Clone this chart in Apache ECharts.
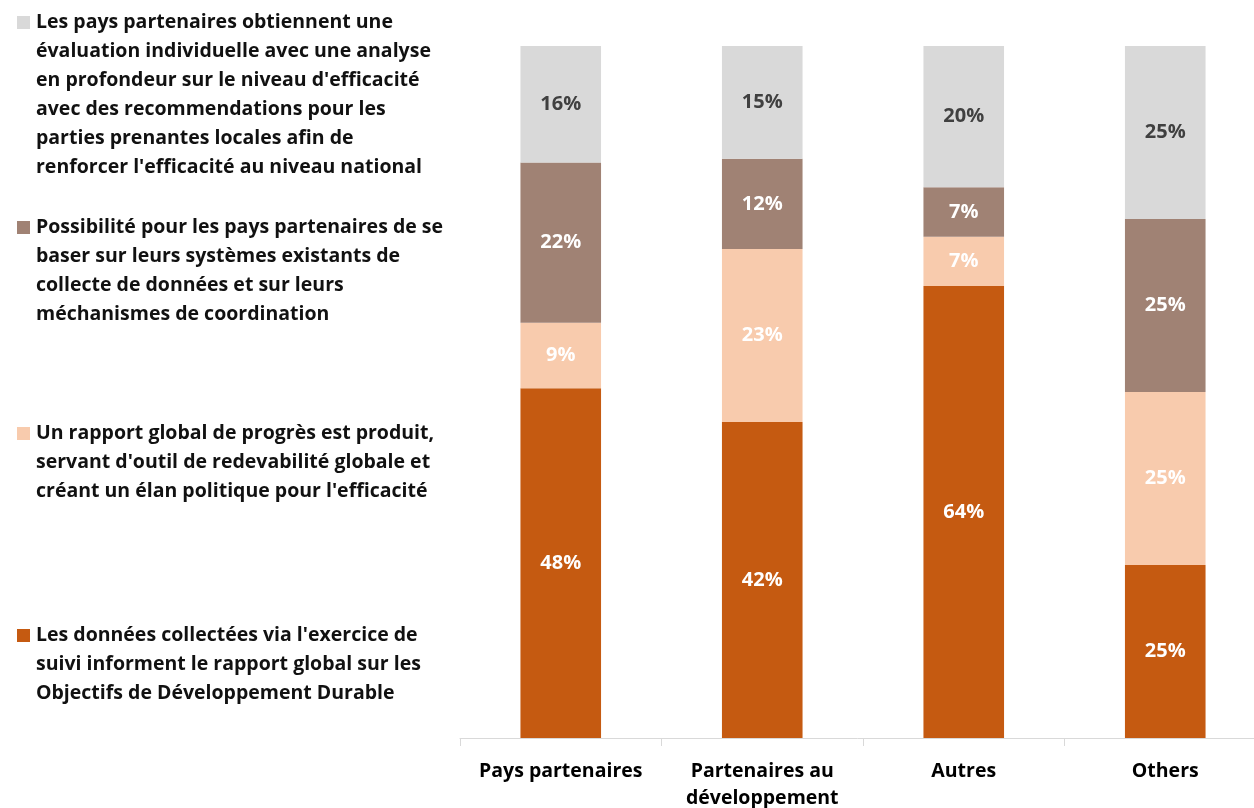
<!DOCTYPE html>
<html>
<head>
<meta charset="utf-8">
<script src="https://cdn.jsdelivr.net/npm/echarts@6/dist/echarts.min.js"></script>
<style>html,body{margin:0;padding:0;background:#fff;overflow:hidden}#c{width:1254px;height:808px}</style>
</head>
<body>
<div id="c"></div>
<script>
var categories = ['Pays partenaires', 'Partenaires au\ndéveloppement', 'Autres', 'Others'];
// displayed percentages per segment (bottom to top)
var donnees = [48, 42, 64, 25];
var rapport = [9, 23, 7, 25];
var systemes = [22, 12, 7, 25];
var evaluation = [16, 15, 20, 25];

var seriesNames = [
  "Les données collectées via l'exercice de suivi informent le rapport global sur les Objectifs de Développement Durable",
  "Un rapport global de progrès est produit, servant d'outil de redevabilité globale et créant un élan politique pour l'efficacité",
  "Possibilité pour les pays partenaires de se baser sur leurs systèmes existants de collecte de données et sur leurs méchanismes de coordination",
  "Les pays partenaires obtiennent une évaluation individuelle avec une analyse en profondeur sur le niveau d'efficacité avec des recommendations pour les parties prenantes locales afin de renforcer l'efficacité au niveau national"
];
var legendLines = [
  ["Les données collectées via l'exercice de", "suivi informent le rapport global sur les", "Objectifs de Développement Durable"],
  ["Un rapport global de progrès est produit,", "servant d'outil de redevabilité globale et", "créant un élan politique pour l'efficacité"],
  ["Possibilité pour les pays partenaires de se", "baser sur leurs systèmes existants de", "collecte de données et sur leurs", "méchanismes de coordination"],
  ["Les pays partenaires obtiennent une", "évaluation individuelle avec une analyse", "en profondeur sur le niveau d'efficacité", "avec des recommendations pour les", "parties prenantes locales afin de", "renforcer l'efficacité au niveau national"]
];
var colors = ['#C55A11', '#F8CBAD', '#A08274', '#D9D9D9'];
var labelColors = ['#FFFFFF', '#FFFFFF', '#FFFFFF', '#404040'];
var legendTops = [621, 419, 213, 8];

var FONT = '"Open Sans"';
var FS = 19.5;
var raw = [donnees, rapport, systemes, evaluation];
var totals = categories.map(function (c, i) {
  return raw.reduce(function (s, arr) { return s + arr[i]; }, 0);
});

var series = raw.map(function (arr, k) {
  return {
    name: seriesNames[k],
    type: 'bar',
    stack: 'total',
    barWidth: '40%',
    itemStyle: { color: colors[k] },
    label: {
      show: true,
      position: 'inside',
      color: labelColors[k],
      fontFamily: FONT,
      fontWeight: 'bold',
      fontSize: 20,
      formatter: function (p) { return arr[p.dataIndex] + '%'; }
    },
    data: arr.map(function (v, i) { return v / totals[i] * 100; })
  };
});

var legends = seriesNames.map(function (name, k) {
  var lines = legendLines[k];
  var txt = lines.map(function (l, j) {
    return (j === 0 ? '{sq|}{g|}' : '{ind|}') + '{t|' + l + '}';
  }).join('\n');
  return {
    data: [name],
    left: 12,
    top: legendTops[k],
    padding: 0,
    icon: 'none',
    itemWidth: 0,
    itemHeight: 0,
    selectedMode: false,
    formatter: function () { return txt; },
    textStyle: {
      lineHeight: 29,
      rich: {
        sq: { width: 13, height: 13, backgroundColor: colors[k] },
        g: { width: 6 },
        ind: { width: 19 },
        t: { fontFamily: FONT, fontWeight: 'bold', fontSize: FS, color: '#111', lineHeight: 29 }
      }
    }
  };
});

var chart = echarts.init(document.getElementById('c'), null, { renderer: 'canvas' });
chart.setOption({
  animation: false,
  backgroundColor: '#fff',
  legend: legends,
  grid: { left: 460, width: 806, top: 46, bottom: 70, containLabel: false, outerBoundsMode: 'none' },
  xAxis: {
    type: 'category',
    data: categories,
    axisLine: { lineStyle: { color: '#D9D9D9', width: 1 } },
    axisTick: { show: true, length: 8, lineStyle: { color: '#D9D9D9' } },
    axisLabel: {
      interval: 0,
      margin: 20,
      color: '#000',
      fontFamily: FONT,
      fontWeight: 'bold',
      fontSize: FS,
      lineHeight: 27
    }
  },
  yAxis: { type: 'value', min: 0, max: 100, show: false, splitLine: { show: false } },
  series: series
});
</script>
</body>
</html>
